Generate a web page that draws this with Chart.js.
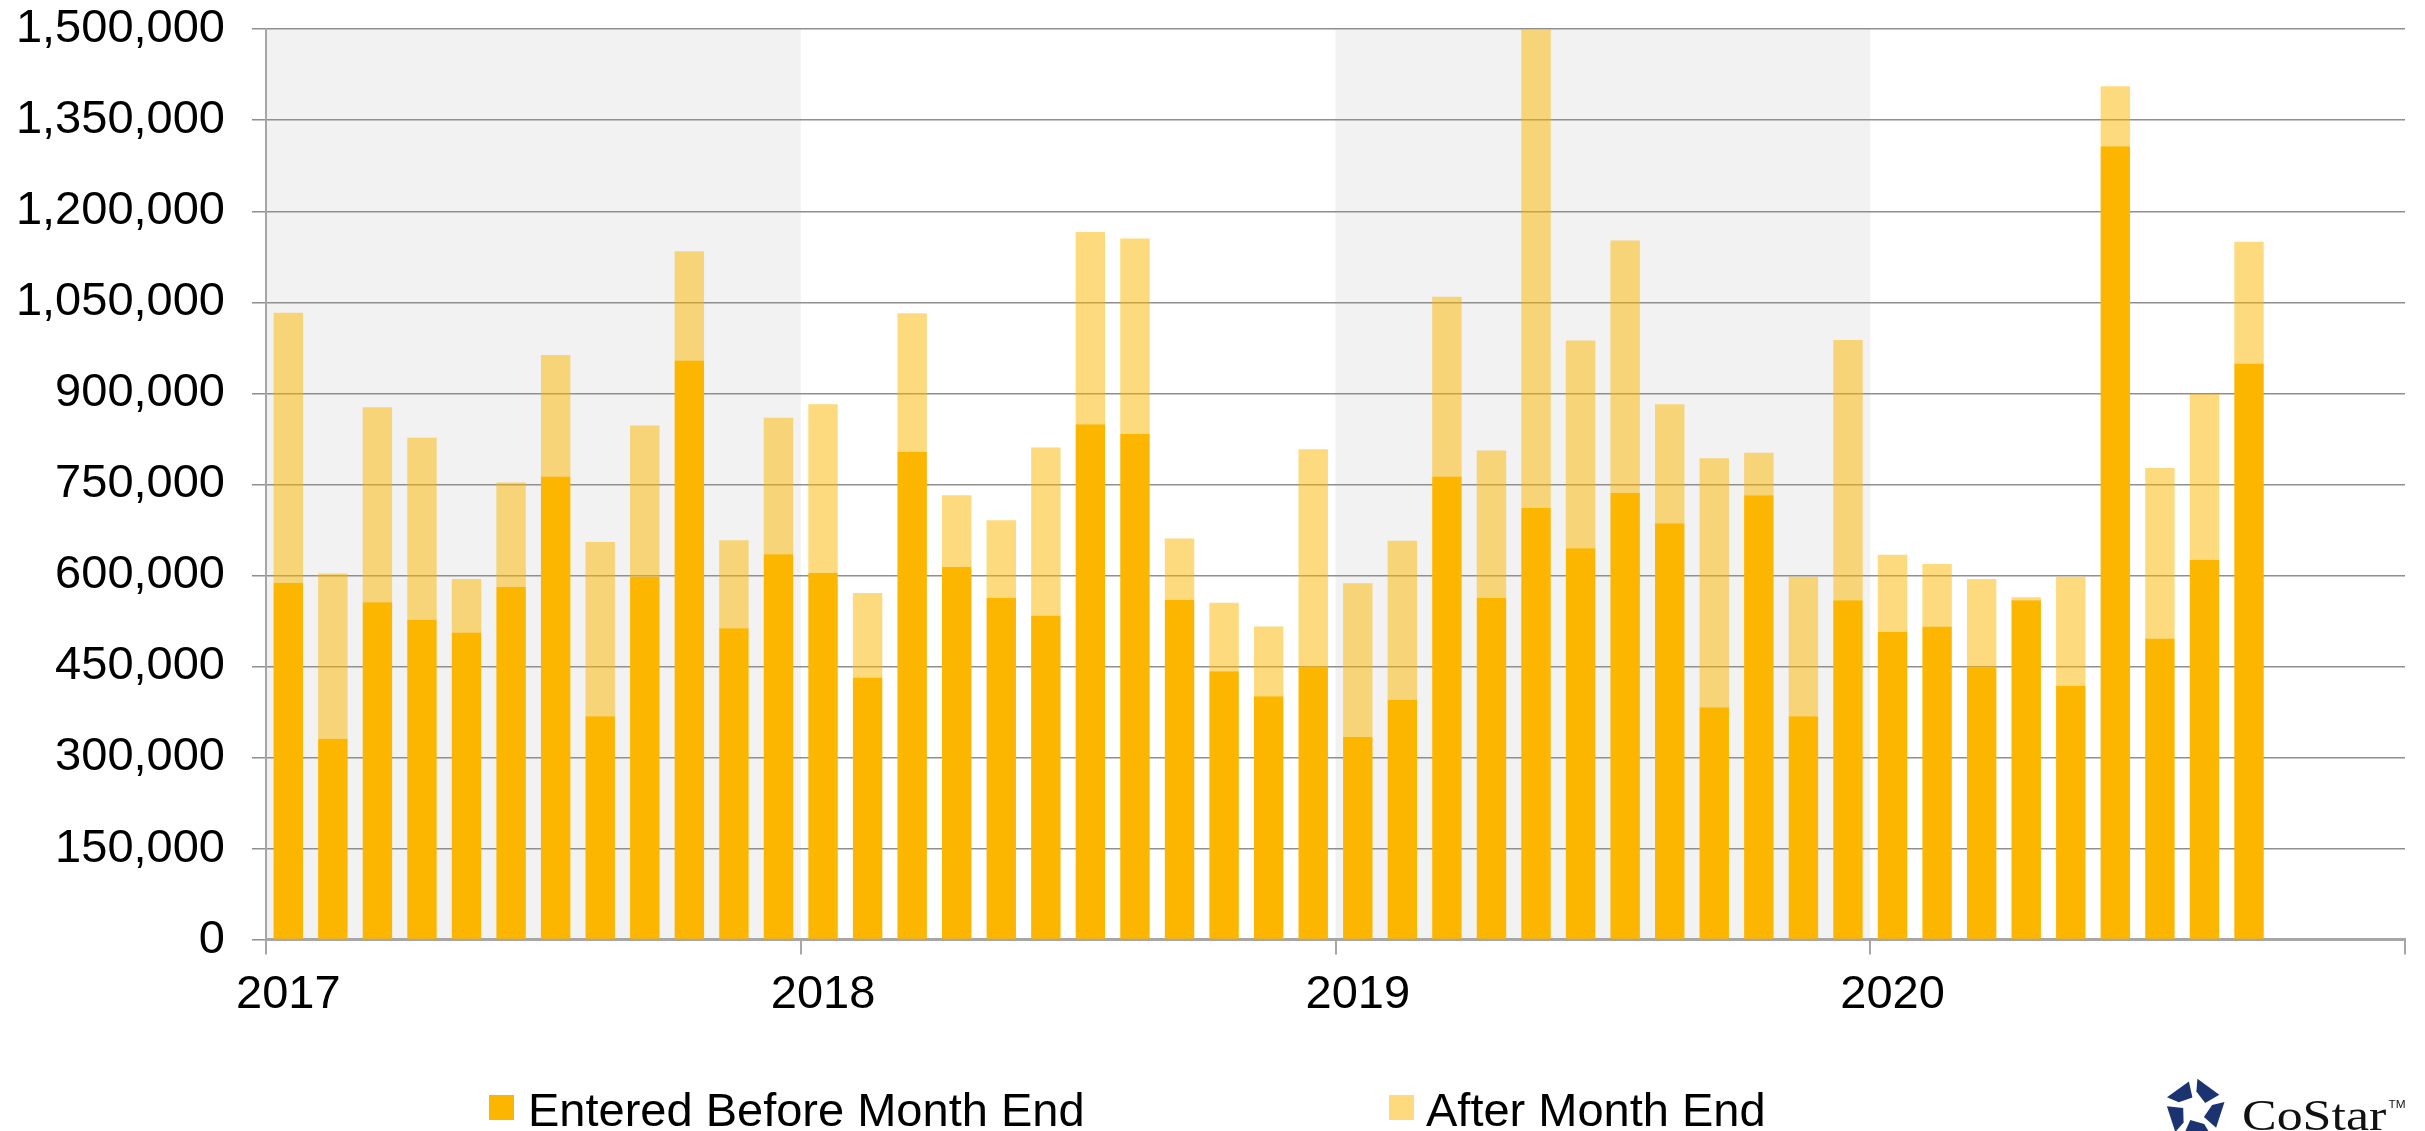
<!DOCTYPE html>
<html>
<head>
<meta charset="utf-8">
<script src="https://cdn.jsdelivr.net/npm/chart.js@4.4.1/dist/chart.umd.min.js"></script>
<style>
  html, body { margin: 0; padding: 0; background: #fff; }
  #wrap { position: relative; width: 2425px; height: 1131px; overflow: hidden; font-family: "Liberation Sans", Arial, sans-serif; }
  #chart { position: absolute; left: 0; top: -26px; }
  .legend-box { position: absolute; top: 1095px; width: 25px; height: 25px; }
  .legend-text { position: absolute; top: 1086px; font-size: 47px; line-height: 47px; color: #000; white-space: nowrap; }
  #star { position: absolute; left: 2162px; top: 1076px; }
  #word { position: absolute; left: 2242px; top: 1083px; font-family: "Liberation Serif", "Times New Roman", serif; font-size: 44px; line-height: 44px; color: #111; white-space: nowrap; transform: scaleX(1.18); transform-origin: 0 0; }
  #word .tm { font-family: "Liberation Sans", Arial, sans-serif; font-size: 10px; vertical-align: 22px; margin-left: 2px; }
</style>
</head>
<body>
<div id="wrap">
  <canvas id="chart" width="2425" height="1157"></canvas>
  <div id="legend"></div>
  <svg id="star" width="66" height="66" viewBox="-33 -33 66 66"></svg>
  <div id="word">CoStar<span class="tm">TM</span></div>
</div>
<script>
(function() {
  "use strict";

  // ── Data ──

  const months = [
    'Jan 2017', 'Feb 2017', 'Mar 2017', 'Apr 2017', 'May 2017', 'Jun 2017', 'Jul 2017', 'Aug 2017', 'Sep 2017', 'Oct 2017', 'Nov 2017', 'Dec 2017',
    'Jan 2018', 'Feb 2018', 'Mar 2018', 'Apr 2018', 'May 2018', 'Jun 2018', 'Jul 2018', 'Aug 2018', 'Sep 2018', 'Oct 2018', 'Nov 2018', 'Dec 2018',
    'Jan 2019', 'Feb 2019', 'Mar 2019', 'Apr 2019', 'May 2019', 'Jun 2019', 'Jul 2019', 'Aug 2019', 'Sep 2019', 'Oct 2019', 'Nov 2019', 'Dec 2019',
    'Jan 2020', 'Feb 2020', 'Mar 2020', 'Apr 2020', 'May 2020', 'Jun 2020', 'Jul 2020', 'Aug 2020', 'Sep 2020', 'Oct 2020', 'Nov 2020', 'Dec 2020'
  ];

  const beforeMonthEnd = [
    588000, 331000, 556000, 527000, 506000, 581000, 763000, 368000, 598000, 954000, 513000, 635000,
    604000, 432000, 804000, 614000, 563000, 534000, 849000, 833000, 560000, 442000, 401000, 450000,
    334000, 395000, 763000, 563000, 711000, 645000, 736000, 686000, 383000, 732000, 368000, 559000,
    507000, 516000, 449000, 559000, 418000, 1307000, 496000, 626000, 949000
  ];

  const afterMonthEnd = [
    445000, 272000, 321000, 300000, 88000, 172000, 200000, 287000, 249000, 180000, 145000, 225000,
    278000, 139000, 228000, 118000, 128000, 277000, 317000, 322000, 101000, 113000, 115000, 358000,
    253000, 262000, 296000, 243000, 789000, 342000, 416000, 196000, 410000, 70000, 230000, 429000,
    127000, 103000, 145000, 5000, 180000, 99000, 281000, 273000, 201000
  ];

  const yearLabels = ['2017', '2018', '2019', '2020'];
  const shadedYears = ['2017', '2019'];

  const ORANGE = '#FDB600';
  const ORANGE_LIGHT = 'rgba(253,182,0,0.5)';
  const GRID = '#8f8f8f';
  const AXIS = '#a6a6a6';
  const SHADE = '#f2f2f2';
  const FONT = '"Liberation Sans", Arial, sans-serif';

  // ── Year bands behind the grid ──

  const yearBands = {
    id: 'yearBands',
    beforeDraw(chart) {
      const { ctx, chartArea, scales: { x } } = chart;
      const slot = x.width / months.length;
      ctx.save();
      ctx.fillStyle = SHADE;
      shadedYears.forEach(yr => {
        const first = months.indexOf('Jan ' + yr);
        const last = months.indexOf('Dec ' + yr);
        const left = x.getPixelForValue(first) - slot / 2;
        const right = x.getPixelForValue(last) + slot / 2;
        ctx.fillRect(left, chartArea.top, right - left, chartArea.bottom - chartArea.top);
      });
      ctx.restore();
    }
  };

  const chart = new Chart(document.getElementById('chart'), {
    type: 'bar',
    data: {
      labels: months,
      datasets: [
        { label: 'Entered Before Month End', data: beforeMonthEnd, backgroundColor: ORANGE, borderWidth: 0 },
        { label: 'After Month End', data: afterMonthEnd, backgroundColor: ORANGE_LIGHT, borderWidth: 0 },
      ]
    },
    options: {
      responsive: false,
      animation: false,
      layout: { padding: { left: 0, right: 20, top: 0, bottom: 96 } },
      datasets: { bar: { categoryPercentage: 1, barPercentage: 0.66 } },
      plugins: { legend: { display: false }, tooltip: { enabled: false } },
      scales: {
        x: {
          stacked: true,
          grid: {
            offset: true,
            drawOnChartArea: false,
            tickLength: 15,
            lineWidth: 2,
            color: ctx => (ctx.type === 'tick' && ctx.index % 12 !== 0) ? 'transparent' : AXIS,
          },
          border: { color: AXIS, width: 3 },
          ticks: {
            autoSkip: false,
            maxRotation: 0,
            padding: 12,
            color: '#000',
            font: { family: FONT, size: 47 },
            callback: function(value) {
              const m = months[value];
              const yr = m.slice(4);
              return m.startsWith('Jan') && yearLabels.includes(yr) ? yr : '';
            }
          }
        },
        y: {
          stacked: true,
          min: 0,
          max: 1500000,
          afterFit: s => { s.width = 266; },
          grid: { color: GRID, lineWidth: 1.5, tickLength: 14, tickColor: GRID },
          border: { color: AXIS, width: 2 },
          ticks: {
            stepSize: 150000,
            padding: 27,
            color: '#000',
            font: { family: FONT, size: 47 },
            callback: v => v.toLocaleString('en-US')
          }
        }
      }
    },
    plugins: [yearBands]
  });

  // ── HTML legend from the datasets ──

  const legendBoxX = [489, 1389];
  const legendTextX = [528, 1426];
  const legendEl = document.getElementById('legend');
  chart.data.datasets.forEach((ds, i) => {
    const box = document.createElement('div');
    box.className = 'legend-box';
    box.style.left = legendBoxX[i] + 'px';
    box.style.background = ds.backgroundColor;
    const txt = document.createElement('div');
    txt.className = 'legend-text';
    txt.style.left = legendTextX[i] + 'px';
    txt.textContent = ds.label;
    legendEl.appendChild(box);
    legendEl.appendChild(txt);
  });

  // ── Logo star: five pieces around a pentagon ──

  const svg = document.getElementById('star');
  const R = 32;
  const vert = k => {
    const a = (-90 + 72 * k) * Math.PI / 180;
    return [R * Math.cos(a), R * Math.sin(a)];
  };
  const lerp = (p, q, t) => [p[0] + (q[0] - p[0]) * t, p[1] + (q[1] - p[1]) * t];
  for (let k = 0; k < 5; k++) {
    const v0 = vert(k), v1 = vert(k + 1);
    const a = lerp(v0, v1, 0.08), b = lerp(v0, v1, 0.80);
    const bi = [b[0] * 0.42, b[1] * 0.42], ai = [a[0] * 0.58, a[1] * 0.58];
    const poly = document.createElementNS('http://www.w3.org/2000/svg', 'polygon');
    poly.setAttribute('points', [a, b, bi, ai].map(p => p.map(n => n.toFixed(1)).join(',')).join(' '));
    poly.setAttribute('fill', '#1b3370');
    svg.appendChild(poly);
  }

})();
</script>
</body>
</html>
